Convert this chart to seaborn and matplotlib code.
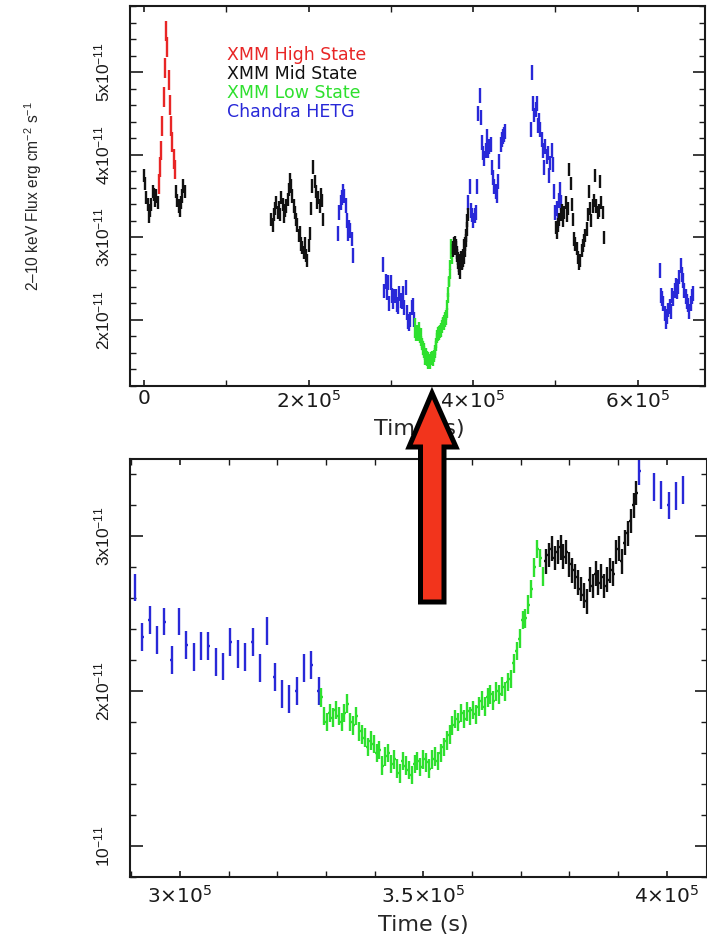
import numpy as np
import pandas as pd
import matplotlib
matplotlib.use("Agg")
import matplotlib.pyplot as plt
from matplotlib.patches import Polygon
from matplotlib.ticker import MultipleLocator
import seaborn as sns

# ---------------------------------------------------------------------------
# 2-10 keV light curve.  Fluxes are in units of 1e-11 erg cm^-2 s^-1,
# each segment is a run of uniform time bins starting at t0 (seconds).
# ---------------------------------------------------------------------------
mid_1_t0, mid_1_dt = 0.0, 1500.0
mid_1 = [3.75, 3.65, 3.48, 3.40, 3.25, 3.32, 3.40, 3.55, 3.52, 3.45, 3.50, 3.42]

high_t0, high_dt = 18000.0, 1500.0
high = [3.65, 3.85, 4.05, 4.35, 4.70, 5.05, 5.50, 5.30, 4.90, 4.60, 4.35, 4.15,
        3.95, 3.82]

mid_2_t0, mid_2_dt = 39000.0, 1500.0
mid_2 = [3.55, 3.45, 3.38, 3.32, 3.42, 3.50, 3.62, 3.55]

mid_3_t0, mid_3_dt = 155000.0, 1500.0
mid_3 = [3.22, 3.15, 3.28, 3.35, 3.42, 3.30, 3.36, 3.28, 3.48, 3.40,
         3.25, 3.32, 3.38, 3.46, 3.58, 3.70, 3.62, 3.50, 3.38, 3.30,
         3.22, 3.15, 3.02, 3.06, 2.92, 2.88, 2.82, 2.92, 2.78, 2.72,
         2.90, 3.05, 3.35, 3.62, 3.85, 3.68, 3.55, 3.42, 3.48, 3.38,
         3.52, 3.45, 3.22]

hetg_1_t0, hetg_1_dt = 236000.0, 1500.0
hetg_1 = [3.05, 3.30, 3.42, 3.48, 3.55, 3.50, 3.38, 3.20, 3.05, 3.12, 3.08,
          2.98, 2.78]

hetg_2_t0, hetg_2_dt = 290750.0, 1510.0
hetg_2 = [2.67, 2.35, 2.46, 2.33, 2.45, 2.20, 2.45, 2.30, 2.22, 2.29, 2.29,
          2.19, 2.16, 2.32, 2.24, 2.22, 2.32, 2.15, 2.39, 2.09, 1.98, 1.95,
          2.00, 2.15, 2.17, 2.00]

low_t0, low_dt = 329000.0, 600.0
low = [1.96, 1.84, 1.80, 1.86, 1.83, 1.88, 1.84, 1.80, 1.86, 1.92,
       1.80, 1.78, 1.84, 1.74, 1.72, 1.70, 1.64, 1.68, 1.66, 1.60,
       1.62, 1.52, 1.58, 1.60, 1.53, 1.56, 1.50, 1.47, 1.55, 1.52,
       1.49, 1.46, 1.53, 1.55, 1.51, 1.56, 1.54, 1.50, 1.56, 1.58,
       1.55, 1.60, 1.64, 1.68, 1.72, 1.78, 1.82, 1.80, 1.86, 1.82,
       1.87, 1.84, 1.88, 1.85, 1.90, 1.94, 1.90, 1.96, 1.98, 1.94,
       2.00, 1.98, 2.03, 2.00, 2.06, 2.08, 2.18, 2.26, 2.34, 2.46,
       2.47, 2.56, 2.66, 2.80, 2.92, 2.86, 2.74]

mid_4_t0, mid_4_dt = 375200.0, 600.0
mid_4 = [2.84, 2.88, 2.92, 2.86, 2.90, 2.93, 2.87, 2.90, 2.82, 2.78,
         2.74, 2.70, 2.66, 2.62, 2.58, 2.72, 2.68, 2.76, 2.70, 2.74,
         2.68, 2.72, 2.78, 2.76, 2.90, 2.92, 2.84, 2.96, 3.02, 3.10,
         3.20, 3.28]

hetg_3_t0, hetg_3_dt = 394400.0, 1500.0
hetg_3 = [3.42, 3.62, 3.32, 3.27, 3.20, 3.26, 3.30, 3.62, 4.50, 4.72,
          4.45, 4.15, 4.02, 3.95, 4.05, 4.22, 4.05, 4.10, 4.12, 3.85,
          3.72, 3.62, 3.55, 3.50, 3.68, 3.92, 4.12, 4.18, 4.22, 4.24,
          4.28]

hetg_4_t0, hetg_4_dt = 470000.0, 1500.0
hetg_4 = [4.30, 5.00, 4.62, 4.48, 4.55, 4.62, 4.35, 4.42, 4.30, 4.18,
          4.05, 3.85, 4.10, 3.98, 4.02, 3.75, 3.90, 4.05, 3.88, 3.55,
          3.30, 3.35, 3.20, 3.45, 3.58, 3.42]

mid_5_t0, mid_5_dt = 500500.0, 1500.0
mid_5 = [3.12, 3.06, 3.15, 3.22, 3.28, 3.32, 3.20, 3.30, 3.42, 3.26,
         3.35, 3.82, 3.65, 3.40, 3.22, 2.98, 2.92, 2.86, 2.76, 2.68,
         2.72, 2.84, 2.90, 2.96, 3.02, 3.10, 3.28, 3.55, 3.35, 3.20,
         3.38, 3.45, 3.75, 3.38, 3.30, 3.32, 3.68, 3.42, 3.30, 3.00]

hetg_5_t0, hetg_5_dt = 627000.0, 1500.0
hetg_5 = [2.60, 2.30, 2.26, 2.20, 2.08, 1.98, 2.04, 2.12, 2.16, 2.10,
          2.30, 2.26, 2.36, 2.42, 2.34, 2.40, 2.52, 2.66, 2.55, 2.48,
          2.36, 2.28, 2.22, 2.18, 2.10, 2.20, 2.28, 2.32]

# 1-sigma flux errors (same units) for each data set
err_high, err_mid, err_low, err_hetg = 0.12, 0.08, 0.06, 0.09

state_names = ["XMM High State", "XMM Mid State", "XMM Low State", "Chandra HETG"]
state_colors = ["#e82626", "#111111", "#2ee02e", "#2828d8"]

segments = [
    ("Chandra HETG", hetg_1_t0, hetg_1_dt, hetg_1, err_hetg),
    ("Chandra HETG", hetg_2_t0, hetg_2_dt, hetg_2, err_hetg),
    ("Chandra HETG", hetg_3_t0, hetg_3_dt, hetg_3, err_hetg),
    ("Chandra HETG", hetg_4_t0, hetg_4_dt, hetg_4, err_hetg),
    ("Chandra HETG", hetg_5_t0, hetg_5_dt, hetg_5, err_hetg),
    ("XMM Low State", low_t0, low_dt, low, err_low),
    ("XMM Mid State", mid_1_t0, mid_1_dt, mid_1, err_mid),
    ("XMM Mid State", mid_2_t0, mid_2_dt, mid_2, err_mid),
    ("XMM Mid State", mid_3_t0, mid_3_dt, mid_3, err_mid),
    ("XMM Mid State", mid_4_t0, mid_4_dt, mid_4, err_mid),
    ("XMM Mid State", mid_5_t0, mid_5_dt, mid_5, err_mid),
    ("XMM High State", high_t0, high_dt, high, err_high),
]

frames = []
for state, t0, dt, flux, err in segments:
    n = len(flux)
    frames.append(pd.DataFrame({
        "state": state,
        "time": t0 + dt * np.arange(n),
        "half_bin": np.full(n, 0.5 * dt if state != "Chandra HETG" else 250.0),
        "flux": flux,
        "err": np.full(n, err),
    }))
lc = pd.concat(frames, ignore_index=True)

# ---------------------------------------------------------------------------
sns.set_theme(style="ticks")
plt.rcParams.update({
    "font.family": ["DejaVu Sans"],
    "mathtext.fontset": "custom",
    "mathtext.rm": "Liberation Sans",
    "mathtext.it": "Liberation Sans:italic",
    "mathtext.bf": "Liberation Sans:bold",
    "xtick.direction": "in",
    "ytick.direction": "in",
    "xtick.top": True,
    "ytick.right": True,
    "axes.edgecolor": "#1a1a1a",
    "axes.linewidth": 1.5,
    "xtick.color": "#1a1a1a",
    "ytick.color": "#1a1a1a",
    "text.color": "#1a1a1a",
})

W, H = 707.0, 935.0
fig = plt.figure(figsize=(W / 100, H / 100), dpi=100)
fig.patch.set_facecolor("white")


def px_box(left, top, right, bottom):
    return [left / W, 1 - bottom / H, (right - left) / W, (bottom - top) / H]


ax_top = fig.add_axes(px_box(130, 6, 705, 386))
ax_bot = fig.add_axes(px_box(130, 459, 706.5, 877))


def draw_curve(ax):
    order = ["Chandra HETG", "XMM Low State", "XMM Mid State", "XMM High State"]
    cmap = dict(zip(state_names, state_colors))
    for state in order:
        sub = lc[lc["state"] == state]
        ax.errorbar(sub["time"], sub["flux"], yerr=sub["err"], xerr=sub["half_bin"],
                    fmt="none", ecolor=cmap[state], elinewidth=1.7, capsize=0)


def ylabels(values):
    out = []
    for v in values:
        out.append(r"$\mathrm{10^{-11}}$" if v == 1 else r"$\mathrm{%dx10^{-11}}$" % v)
    return out


def style_axes(ax, ymaj, xlabel_pad):
    ax.set_facecolor("white")
    for s in ax.spines.values():
        s.set_visible(True)
        s.set_linewidth(1.5)
    ax.yaxis.set_minor_locator(MultipleLocator(0.2))
    ax.set_yticks(ymaj, labels=ylabels(ymaj))
    for lab in ax.get_yticklabels():
        lab.set_rotation(90)
        lab.set_verticalalignment("center")
        lab.set_fontsize(12.5)
    ax.tick_params(axis="y", which="major", length=9, width=1.2, pad=12)
    ax.tick_params(axis="y", which="minor", length=4.5, width=1.0)
    ax.tick_params(axis="x", which="major", length=4.5, width=1.2, pad=xlabel_pad)
    ax.tick_params(axis="x", which="minor", length=4, width=1.0)
    for lab in ax.get_xticklabels():
        lab.set_math_fontfamily("dejavusans")
        lab.set_fontsize(14.5)


# ---- full light curve -----------------------------------------------------
draw_curve(ax_top)
ax_top.set_xlim(-17000, 682000)
ax_top.set_ylim(1.2, 5.8)
ax_top.set_xticks([0, 2e5, 4e5, 6e5],
                  labels=["0", r"$2{\times}10^{5}$", r"$4{\times}10^{5}$", r"$6{\times}10^{5}$"])
ax_top.xaxis.set_minor_locator(MultipleLocator(1e5))
style_axes(ax_top, [2, 3, 4, 5], 2.5)
ax_top.set_xlabel("Time (s)", fontsize=16)
ax_top.xaxis.set_label_coords(0.504, -0.088)
ax_top.set_ylabel(r"2–10 keV Flux erg cm$^{-2}$ s$^{-1}$", fontsize=11.2,
                  fontfamily="Liberation Sans", va="center")
ax_top.yaxis.set_label_coords(-0.169, 0.5)

# legend written as coloured labels, one line per data set
legend_y = [0.872, 0.822, 0.772, 0.722]
for name, color, y in zip(state_names, state_colors, legend_y):
    ax_top.text(0.169, y, name, color=color, fontsize=12.5, va="center", ha="left",
                transform=ax_top.transAxes)

# ---- zoom on the low state --------------------------------------------------
draw_curve(ax_bot)
ax_bot.set_xlim(289730, 408200)
ax_bot.set_ylim(0.8, 3.5)
ax_bot.set_xticks([3e5, 3.5e5, 4e5],
                  labels=[r"$3{\times}10^{5}$", r"$3.5{\times}10^{5}$", r"$4{\times}10^{5}$"])
ax_bot.xaxis.set_minor_locator(MultipleLocator(1e4))
style_axes(ax_bot, [1, 2, 3], 6)
ax_bot.set_xlabel("Time (s)", fontsize=16)
ax_bot.xaxis.set_label_coords(0.508, -0.092)

# ---- arrow linking the two panels (figure pixel coordinates) ----------------
arrow_px = [(432, 393), (456, 447), (444, 447), (444, 602), (420.5, 602),
            (420.5, 447), (409, 447)]
arrow = Polygon([(x / W, 1 - y / H) for x, y in arrow_px], closed=True,
                transform=fig.transFigure, facecolor="#f2341c", edgecolor="black",
                linewidth=3.6, joinstyle="miter", zorder=20)
fig.add_artist(arrow)

fig.savefig("out.png", dpi=100, facecolor="white")
